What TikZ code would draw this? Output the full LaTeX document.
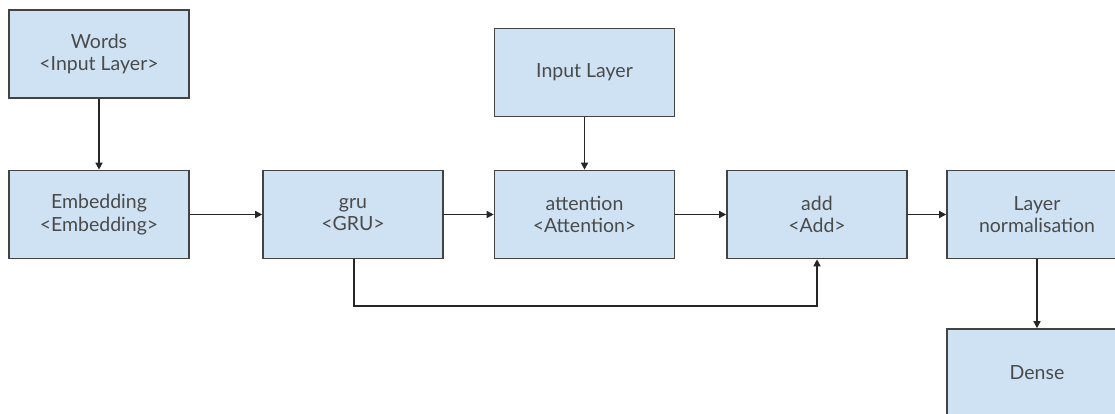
\documentclass[tikz,border=0pt]{standalone}
\usepackage{fontspec}
\setmainfont{Lato}
\usetikzlibrary{arrows.meta}
\definecolor{boxfill}{HTML}{CFE2F3}
\definecolor{boxline}{HTML}{434343}
\definecolor{txt}{HTML}{4A4A4A}
\tikzset{
  layerbox/.style={draw=boxline, line width=1.6pt, fill=boxfill, minimum width=180pt, minimum height=88pt,
    text=txt, align=center, font=\fontsize{19.5}{22.5}\selectfont, inner sep=0pt},
  conn/.style={draw=black!85, line width=1.4pt, -{Triangle[length=7pt,width=7pt]}}
}
\begin{document}
\begin{tikzpicture}[x=1pt,y=-1pt]
\useasboundingbox (0,0) rectangle (1115,414);
\clip (0,0) rectangle (1115,414);
\node[layerbox] (words) at (99,54) {Words\\<Input Layer>};
\node[layerbox] (emb) at (99,214.5) {Embedding\\<Embedding>};
\node[layerbox] (gru) at (353,214.5) {gru\\<GRU>};
\node[layerbox] (inp) at (584.5,72.5) {Input Layer};
\node[layerbox] (att) at (584.5,214.5) {attention\\<Attention>};
\node[layerbox] (add) at (817,214.5) {add\\<Add>};
\node[layerbox] (norm) at (1037,214.5) {Layer\\normalisation};
\node[layerbox] (dense) at (1037,373) {Dense};
\coordinate (b1) at (354,306);
\coordinate (b2) at (817,306);
\draw[conn] (words) -- (emb);
\draw[conn] (emb) -- (gru);
\draw[conn] (inp) -- (att);
\draw[conn] (gru) -- (att);
\draw[conn] (att) -- (add);
\draw[conn] (add) -- (norm);
\draw[conn] (norm) -- (dense);
\draw[conn] (gru.south -| b1) -- (b1) -- (b2) -- (add.south);
\end{tikzpicture}
\end{document}
